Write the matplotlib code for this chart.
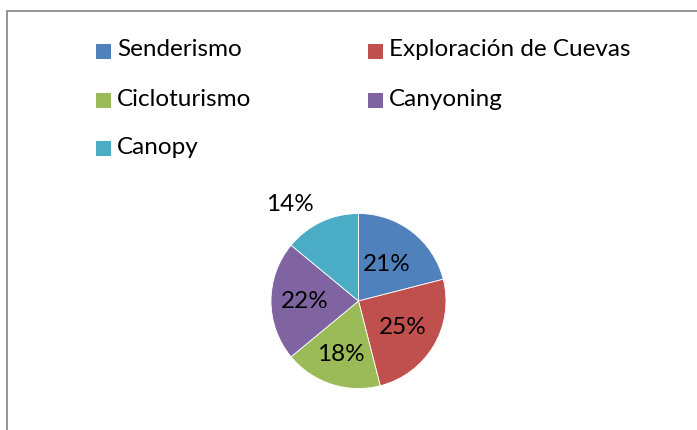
import matplotlib
matplotlib.use("Agg")
import matplotlib.pyplot as plt
import numpy as np
from matplotlib.patches import Rectangle

categories = ["Senderismo", "Exploración de Cuevas", "Cicloturismo", "Canyoning", "Canopy"]
values = [21, 25, 18, 22, 14]
colors = ["#4F81BD", "#C0504D", "#9BBB59", "#8064A2", "#4BACC6"]

W, H = 697, 430
plt.rcParams['font.family'] = ['Lato', 'DejaVu Sans']
fig = plt.figure(figsize=(W / 100, H / 100), dpi=100)

# chart border
fig.patches.append(Rectangle((7 / W, -0.1), 1.2, 1 - 11 / H + 0.1, transform=fig.transFigure,
                             fill=False, edgecolor="#8c8c8c", linewidth=1.3))

cx, cy, r = 358.5, 301, 87.5
ax = fig.add_axes([(cx - r) / W, (H - cy - r) / H, 2 * r / W, 2 * r / H])
wedges, _ = ax.pie(values, colors=colors, startangle=90, counterclock=False,
                   wedgeprops=dict(edgecolor="white", linewidth=0.6))
ax.set_xlim(-1, 1)
ax.set_ylim(-1, 1)
ax.set_aspect("equal")
ax.axis("off")

label_dist = [0.53, 0.59, 0.64, 0.61, 1.35]
label_angle_offset = [0, 0, 0, 0, 10]
total = sum(values)
cum = 0
for v, d, off in zip(values, label_dist, label_angle_offset):
    mid = 90 - (cum + v / 2) / total * 360 + off
    cum += v
    ax.text(d * np.cos(np.radians(mid)), d * np.sin(np.radians(mid)), f"{v}%",
            ha="center", va="center", fontsize=17.5, color="black", clip_on=False)

# legend
leg_pos = [(96, 51), (368, 51), (96, 100), (368, 100), (96, 148)]
for cat, col, (lx, ly) in zip(categories, colors, leg_pos):
    fig.patches.append(Rectangle((lx / W, (H - ly - 7.5) / H), 15 / W, 15 / H,
                                 transform=fig.transFigure, facecolor=col, edgecolor="none"))
    fig.text((lx + 21) / W, (H - ly + 1) / H, cat, ha="left", va="center", fontsize=17.5, color="black")

fig.savefig("out.png", dpi=100, facecolor="white")
